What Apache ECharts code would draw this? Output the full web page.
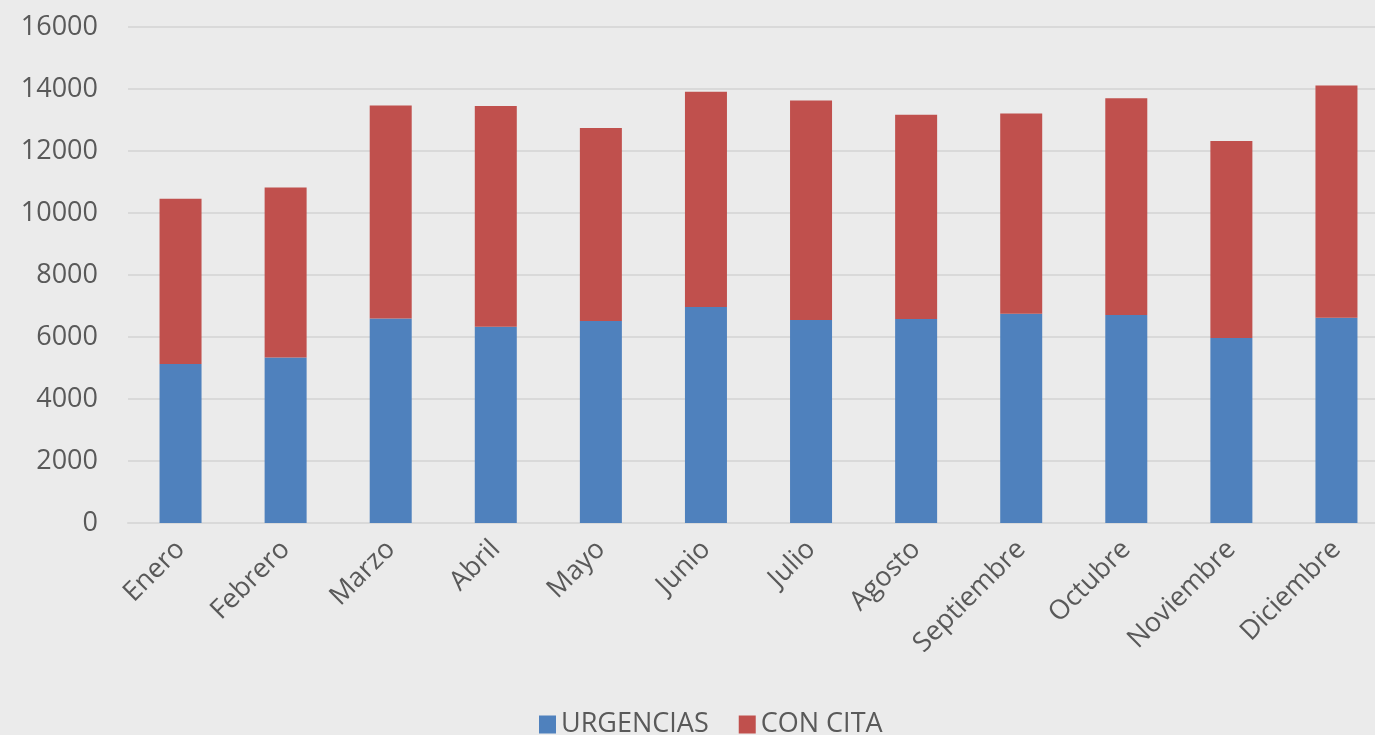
<!DOCTYPE html>
<html lang="es">
<head>
  <meta charset="UTF-8">
  <title>Urgencias y con cita por mes</title>
  <script src="https://cdn.jsdelivr.net/npm/echarts@6/dist/echarts.min.js"></script>
  <style>
    html, body { margin: 0; padding: 0; background: #ebebeb; overflow: hidden; }
  </style>
</head>
<body>
<!-- el lienzo es algo más ancho que la ventana: la rejilla se corta a la derecha como en el original -->
<div id="main" style="width: 1389px;height:735px;"></div>
<script>
  var meses = ['Enero', 'Febrero', 'Marzo', 'Abril', 'Mayo', 'Junio', 'Julio',
    'Agosto', 'Septiembre', 'Octubre', 'Noviembre', 'Diciembre'];
  var urgencias = [5130, 5340, 6600, 6330, 6520, 6970, 6550, 6580, 6750, 6710, 5970, 6620];
  var conCita = [5330, 5480, 6870, 7120, 6220, 6940, 7080, 6590, 6460, 6990, 6350, 7490];

  var myChart = echarts.init(document.getElementById('main'));
  var fuente = '"Open Sans", "Liberation Sans", sans-serif';

  option = {
    backgroundColor: '#ebebeb',
    animation: false,
    textStyle: { fontFamily: fuente },
    legend: {
      data: ['URGENCIAS', 'CON CITA'],
      left: 534,
      top: 706,
      itemWidth: 17,
      itemHeight: 18,
      itemGap: 30,
      icon: 'rect',
      textStyle: { color: '#595959', fontSize: 27, fontFamily: fuente }
    },
    grid: {
      left: 128,
      right: 0,
      top: 27,
      bottom: 212
    },
    xAxis: {
      type: 'category',
      data: meses,
      axisLine: { lineStyle: { color: '#d9d9d9', width: 2 } },
      axisTick: { show: false },
      axisLabel: {
        rotate: 45,
        interval: 0,
        margin: 22,
        color: '#595959',
        fontSize: 27,
        fontFamily: fuente
      }
    },
    yAxis: {
      type: 'value',
      min: 0,
      max: 16000,
      interval: 2000,
      axisLine: { show: false },
      axisTick: { show: false },
      splitLine: { lineStyle: { color: '#d9d9d9', width: 2 } },
      axisLabel: {
        margin: 30,
        color: '#595959',
        fontSize: 27,
        fontFamily: fuente,
        formatter: function (v) { return String(v); }
      }
    },
    series: [{
      name: 'URGENCIAS',
      type: 'bar',
      stack: 'total',
      barWidth: 42,
      itemStyle: { color: '#4f81bd' },
      data: urgencias
    }, {
      name: 'CON CITA',
      type: 'bar',
      stack: 'total',
      barWidth: 42,
      itemStyle: { color: '#c0504d' },
      data: conCita
    }]
  };

  myChart.setOption(option);
</script>
</body>
</html>
